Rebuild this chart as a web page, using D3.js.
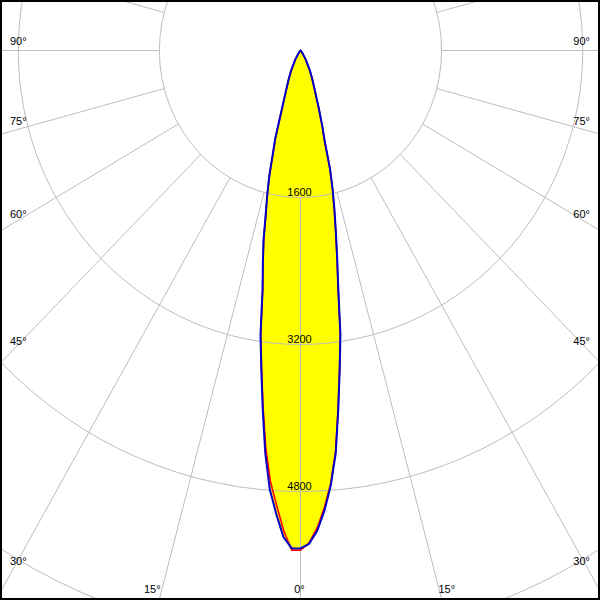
<!DOCTYPE html>
<html>
<head>
<meta charset="utf-8">
<script src="https://cdn.jsdelivr.net/npm/d3@7"></script>
<style>
  body { margin: 0; background: #fff; }
  svg { display: block; }
  text { font-family: "Liberation Sans", Arial, sans-serif; font-size: 11px; fill: #000; }
</style>
</head>
<body>
<div id="chart"></div>
<script>
// gamma angles (deg from nadir) that the intensities were read at
const gammaAngles = [0, 1, 2, 3, 4, 5, 6, 7, 8, 9, 10, 11, 12, 13, 14, 15, 16,
  17.5, 20, 22.5, 25, 30, 35, 40, 45, 50, 60, 70, 80, 90];

// candela per half plane; red = C0 (right) / C180 (left), blue = C90 (right) / C270 (left)
const planeC0 = [5440, 5360, 5200, 4980, 4720, 4380, 3920, 3490, 3110, 2620,
  2290, 2010, 1770, 1550, 1320, 1000, 860, 660, 445, 330, 240, 110, 40, 15, 5, 0, 0, 0, 0, 0];
const planeC180 = [5440, 5440, 5230, 4960, 4700, 4340, 3900, 3480, 3110, 2630,
  2350, 2100, 1810, 1600, 1390, 1150, 990, 680, 450, 330, 240, 110, 40, 15, 5, 0, 0, 0, 0, 0];
const planeC90 = [5420, 5370, 5230, 5010, 4740, 4400, 3930, 3500, 3120, 2630,
  2300, 2020, 1780, 1560, 1330, 1010, 870, 670, 450, 330, 245, 115, 40, 15, 5, 0, 0, 0, 0, 0];
const planeC270 = [5420, 5420, 5300, 5050, 4790, 4400, 3930, 3500, 3130, 2640,
  2360, 2110, 1820, 1610, 1400, 1160, 1000, 690, 455, 335, 245, 115, 40, 15, 5, 0, 0, 0, 0, 0];

const ringValues = [1600, 3200, 4800, 6400];
const ringLabels = ["1600", "3200", "4800"];
const spokeAngles = d3.range(0, 360, 15);
const angleLabels = [0, 15, 30, 45, 60, 75, 90];

let width = 600,
    height = 600,
    cx = 300.5,
    cy = 50.5,
    gridSquash = 0.96;   // the grid in the original is a little narrower than tall

let rScale = d3.scaleLinear().domain([0, 1600]).range([0, 147]);
const rad = d => d * Math.PI / 180;

let svg = d3.select("#chart")
  .append("svg")
    .attr("width", width)
    .attr("height", height);

svg.append("rect")
  .attr("width", width)
  .attr("height", height)
  .attr("fill", "#fff");

let fillLayer = svg.append("g")
  .attr("transform", "translate(" + cx + "," + cy + ")");
let grid = svg.append("g")
  .attr("transform", "translate(" + cx + "," + cy + ") scale(" + gridSquash + ",1)");
let g = svg.append("g")
  .attr("transform", "translate(" + cx + "," + cy + ")");

// left half then right half, d3 angles run clockwise from up
function curvePoints(leftVals, rightVals) {
  let left = gammaAngles.map((a, i) => [Math.PI + rad(a), rScale(leftVals[i])]).reverse();
  let right = gammaAngles.map((a, i) => [Math.PI - rad(a), rScale(rightVals[i])]);
  return left.concat(right.slice(1));
}

let radial = d3.lineRadial()
  .angle(d => d[0])
  .radius(d => d[1])
  .curve(d3.curveLinearClosed);

let redPath = radial(curvePoints(planeC180, planeC0)),
    bluePath = radial(curvePoints(planeC270, planeC90));

// yellow fill
[redPath, bluePath].forEach(p => {
  fillLayer.append("path")
    .attr("d", p)
    .attr("fill", "#ffff00")
    .attr("stroke", "none");
});

// grid rings
grid.selectAll(".ring")
  .data(ringValues)
  .enter().append("circle")
    .attr("class", "ring")
    .attr("r", d => rScale(d))
    .attr("fill", "none")
    .attr("stroke", "#bdbdbd")
    .attr("stroke-width", 1)
    .attr("vector-effect", "non-scaling-stroke");

// spokes start at the first ring
grid.selectAll(".spoke")
  .data(spokeAngles)
  .enter().append("line")
    .attr("class", "spoke")
    .attr("x1", d => rScale(1600) * Math.sin(rad(d)))
    .attr("y1", d => rScale(1600) * Math.cos(rad(d)))
    .attr("x2", d => 1000 * Math.sin(rad(d)))
    .attr("y2", d => 1000 * Math.cos(rad(d)))
    .attr("stroke", "#bdbdbd")
    .attr("stroke-width", 1)
    .attr("vector-effect", "non-scaling-stroke");

g.selectAll(".ringLabel")
  .data(ringLabels)
  .enter().append("text")
    .attr("class", "ringLabel")
    .attr("x", -1)
    .attr("y", d => rScale(+d) - 2)
    .attr("text-anchor", "middle")
    .text(d => d);

// intensity curves
g.append("path")
  .attr("d", redPath)
  .attr("fill", "none")
  .attr("stroke", "#ff0000")
  .attr("stroke-width", 1.6);

g.append("path")
  .attr("d", bluePath)
  .attr("fill", "none")
  .attr("stroke", "#0000c8")
  .attr("stroke-width", 2)
  .attr("stroke-linejoin", "round");

// angle labels where each spoke leaves the frame
function edgeLabel(a, side) {
  let s = Math.sin(rad(a)), c = Math.cos(rad(a));
  let tx = s > 1e-6 ? (cx) / s : Infinity;
  let ty = c > 1e-6 ? (height - cy) / c : Infinity;
  if (tx < ty) {
    let y = cy + tx * c;
    return side < 0
      ? { x: 10, y: y - 6, anchor: "start" }
      : { x: width - 10, y: y - 6, anchor: "end" };
  }
  let x = cx + side * ty * s;
  return { x: x - 1, y: height - 7, anchor: "middle" };
}

let labelData = [];
angleLabels.forEach(a => {
  labelData.push(Object.assign({ t: a + "\u00b0" }, edgeLabel(a, -1)));
  if (a > 0) labelData.push(Object.assign({ t: a + "\u00b0" }, edgeLabel(a, 1)));
});

svg.selectAll(".angleLabel")
  .data(labelData)
  .enter().append("text")
    .attr("class", "angleLabel")
    .attr("x", d => d.x)
    .attr("y", d => d.y)
    .attr("text-anchor", d => d.anchor)
    .text(d => d.t);

// frame
svg.append("rect")
  .attr("x", 1)
  .attr("y", 1)
  .attr("width", width - 2)
  .attr("height", height - 2)
  .attr("fill", "none")
  .attr("stroke", "#000")
  .attr("stroke-width", 2);
</script>
</body>
</html>
